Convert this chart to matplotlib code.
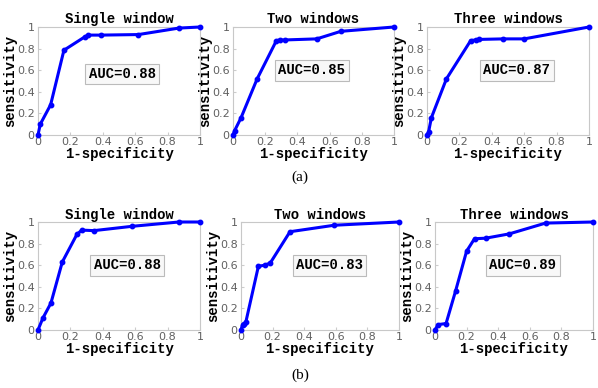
import matplotlib
matplotlib.use("Agg")
import matplotlib.pyplot as plt

titles = ["Single window", "Two windows", "Three windows",
          "Single window", "Two windows", "Three windows"]
auc_labels = ["AUC=0.88", "AUC=0.85", "AUC=0.87", "AUC=0.88", "AUC=0.83", "AUC=0.89"]

a1_x = [0, 0.014, 0.078, 0.16, 0.29, 0.31, 0.39, 0.62, 0.87, 1.0]
a1_y = [0, 0.10, 0.28, 0.785, 0.91, 0.925, 0.925, 0.93, 0.99, 1.0]
a2_x = [0, 0.01, 0.05, 0.15, 0.27, 0.295, 0.32, 0.52, 0.67, 1.0]
a2_y = [0, 0.04, 0.16, 0.52, 0.875, 0.88, 0.88, 0.89, 0.96, 1.0]
a3_x = [0, 0.01, 0.027, 0.12, 0.27, 0.30, 0.32, 0.47, 0.60, 1.0]
a3_y = [0, 0.03, 0.16, 0.52, 0.875, 0.88, 0.885, 0.89, 0.89, 1.0]
b1_x = [0, 0.03, 0.08, 0.15, 0.24, 0.27, 0.345, 0.58, 0.87, 1.0]
b1_y = [0, 0.11, 0.25, 0.63, 0.885, 0.925, 0.92, 0.96, 1.0, 1.0]
b2_x = [0, 0.01, 0.02, 0.03, 0.11, 0.15, 0.185, 0.31, 0.59, 1.0]
b2_y = [0, 0.05, 0.06, 0.07, 0.59, 0.60, 0.62, 0.91, 0.97, 1.0]
b3_x = [0, 0.02, 0.07, 0.13, 0.20, 0.25, 0.32, 0.47, 0.70, 1.0]
b3_y = [0, 0.05, 0.06, 0.36, 0.73, 0.845, 0.85, 0.89, 0.99, 1.0]

xs = [a1_x, a2_x, a3_x, b1_x, b2_x, b3_x]
ys = [a1_y, a2_y, a3_y, b1_y, b2_y, b3_y]
xticks = [0, 0.2, 0.4, 0.6, 0.8, 1]
yticks = [0, 0.2, 0.4, 0.6, 0.8, 1]
tick_labels = ["0", "0.2", "0.4", "0.6", "0.8", "1"]
panel_labels = ["(a)", "(b)"]

W, H = 598, 388
fig = plt.figure(figsize=(W / 100, H / 100), dpi=100)

# axes rectangles in pixels: left, top, right, bottom
rects = [(38, 27, 200, 135), (233, 27, 394, 135), (427, 27, 589, 135),
         (38, 222, 200, 330), (241, 222, 399, 330), (435, 222, 593, 330)]
auc_pos = [(0.52, 0.565), (0.49, 0.60), (0.555, 0.60),
           (0.55, 0.60), (0.56, 0.60), (0.555, 0.60)]

mono = "Liberation Mono"
for i in range(6):
    l, t, r, b = rects[i]
    ax = fig.add_axes([l / W, 1 - b / H, (r - l) / W, (b - t) / H])
    ax.plot(xs[i], ys[i], color="#0000ff", lw=2.2, marker="o", ms=3.2, clip_on=False, zorder=3)
    ax.set_xlim(0, 1)
    ax.set_ylim(0, 1)
    ax.set_xticks(xticks)
    ax.set_xticklabels(tick_labels)
    ax.set_yticks(yticks)
    ax.set_yticklabels(tick_labels)
    ax.tick_params(direction="in", length=2, color="#cccccc", labelcolor="#606060",
                   labelsize=8)
    ax.tick_params(axis="x", pad=1.5)
    ax.tick_params(axis="y", pad=2.5)
    for s in ax.spines.values():
        s.set_color("#c8c8c8")
        s.set_linewidth(0.8)
    ax.set_title(titles[i], fontfamily=mono, fontweight="bold", fontsize=10,
                 pad=3 if i < 3 else 2)
    ax.set_xlabel("1-specificity", fontfamily=mono, fontweight="bold", fontsize=10, labelpad=0)
    ax.set_ylabel("sensitivity", fontfamily=mono, fontweight="bold", fontsize=10, labelpad=0)
    ax.text(auc_pos[i][0], auc_pos[i][1], auc_labels[i], transform=ax.transAxes,
            ha="center", va="center", fontfamily=mono, fontweight="bold", fontsize=10,
            bbox=dict(boxstyle="square,pad=0.25", fc="#f8f8f8", ec="#bbbbbb", lw=0.8))

fig.text(300 / W, 1 - 177 / H, panel_labels[0], ha="center", va="center",
         fontfamily="Liberation Serif", fontsize=11)
fig.text(300 / W, 1 - 375 / H, panel_labels[1], ha="center", va="center",
         fontfamily="Liberation Serif", fontsize=11)

fig.savefig("out.png", dpi=100, facecolor="white")
